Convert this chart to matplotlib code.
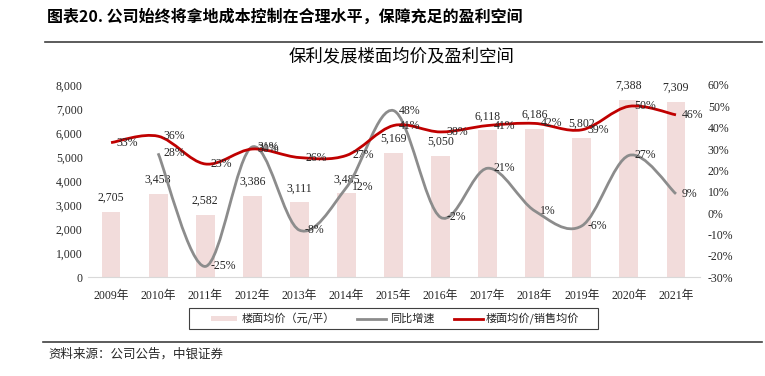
import numpy as np
import matplotlib
matplotlib.use('Agg')
import matplotlib.pyplot as plt
from matplotlib.path import Path
from matplotlib.patches import PathPatch, Rectangle
from matplotlib.lines import Line2D

plt.rcParams['font.family'] = ['Liberation Serif', 'Noto Sans CJK SC']
plt.rcParams['axes.unicode_minus'] = False

years = ['2009年', '2010年', '2011年', '2012年', '2013年', '2014年', '2015年',
         '2016年', '2017年', '2018年', '2019年', '2020年', '2021年']
floor_price = [2705, 3458, 2582, 3386, 3111, 3485, 5169, 5050, 6118, 6186, 5802, 7388, 7309]
yoy = [None, 28, -25, 31, -8, 12, 48, -2, 21, 1, -6, 27, 9]
ratio = [33, 36, 23, 30, 26, 27, 41, 38, 41, 42, 39, 50, 46]

CJK = ['Noto Sans CJK SC', 'DejaVu Sans']
RED = '#C00000'
GRAY = '#8C8C8C'
PINK = '#F2DCDB'


def smooth_path(xs, ys):
    # bezier segments through the points, like excel's smoothed line
    pts = np.column_stack([xs, ys]).astype(float)
    n = len(pts)
    verts = [pts[0]]
    codes = [Path.MOVETO]
    for i in range(n - 1):
        p0 = pts[i - 1] if i > 0 else pts[i]
        p1, p2 = pts[i], pts[i + 1]
        p3 = pts[i + 2] if i + 2 < n else pts[i + 1]
        c1 = p1 + (p2 - p0) / 6.0
        c2 = p2 - (p3 - p1) / 6.0
        verts += [c1, c2, p2]
        codes += [Path.CURVE4] * 3
    return Path(verts, codes)


fig = plt.figure(figsize=(7.65, 3.76), dpi=100)
ax = fig.add_axes([0.1144, 0.263, 0.8, 0.511])
x = np.arange(len(years))

ax.bar(x, floor_price, width=0.4, color=PINK, zorder=1)
ax.set_xlim(-0.5, len(years) - 0.5)
ax.set_ylim(0, 8000)
ax.set_yticks(range(0, 8001, 1000))
ax.set_yticklabels([f'{v:,}' for v in range(0, 8001, 1000)])
ax.set_xticks(x)
ax.set_xticklabels(years)
for s in ['top', 'left', 'right']:
    ax.spines[s].set_visible(False)
ax.spines['bottom'].set_color('#D9D9D9')
ax.tick_params(length=0, labelsize=8.5, colors='#262626')
ax.tick_params(axis='x', pad=9)
for i, v in enumerate(floor_price):
    ax.text(i, v + 330, f'{v:,}', ha='center', va='bottom', fontsize=8.5, color='#262626')

ax2 = ax.twinx()
ax2.set_ylim(-30, 60)
ax2.set_yticks(range(-30, 61, 10))
ax2.set_yticklabels([f'{v}%' for v in range(-30, 61, 10)])
for s in ['top', 'left', 'right', 'bottom']:
    ax2.spines[s].set_visible(False)
ax2.tick_params(length=0, labelsize=8.5, colors='#262626', pad=6)

gx = [i for i, v in enumerate(yoy) if v is not None]
gy = [v for v in yoy if v is not None]
ax2.add_patch(PathPatch(smooth_path(gx, gy), fill=False, edgecolor=GRAY, lw=2.0, zorder=3))
ax2.add_patch(PathPatch(smooth_path(x, ratio), fill=False, edgecolor=RED, lw=2.0, zorder=4))

for i, v in zip(gx, gy):
    ax2.text(i + 0.12, v, f'{v}%', ha='left', va='center', fontsize=8.5, color='#262626', zorder=5)
for i, v in enumerate(ratio):
    ax2.text(i + 0.12, v, f'{v}%', ha='left', va='center', fontsize=8.5, color='#262626', zorder=5)

# titles and rules
fig.text(47 / 765, 1 - 17 / 376, '图表20. 公司始终将拿地成本控制在合理水平，保障充足的盈利空间',
         family=CJK, fontsize=11.5, fontweight='bold', ha='left', va='center')
fig.add_artist(Line2D([45 / 765, 762 / 765], [1 - 42 / 376] * 2, color='#404040', lw=1.2))
fig.text(402 / 765, 1 - 56 / 376, '保利发展楼面均价及盈利空间', family=CJK, fontsize=12.5,
         ha='center', va='center')

# legend box
fig.add_artist(Rectangle((189 / 765, 1 - 329 / 376), 409 / 765, 21 / 376, transform=fig.transFigure,
                         fill=False, edgecolor='#404040', lw=0.8))
ly = 1 - 318.5 / 376
fig.add_artist(Rectangle((211 / 765, ly - 2.5 / 376), 26 / 765, 5 / 376, transform=fig.transFigure,
                         color=PINK, lw=0))
fig.text(242 / 765, ly, '楼面均价（元/平）', family=CJK, fontsize=8, va='center', color='#262626')
fig.add_artist(Line2D([357 / 765, 386 / 765], [ly, ly], color=GRAY, lw=2))
fig.text(390 / 765, ly, '同比增速', family=CJK, fontsize=8, va='center', color='#262626')
fig.add_artist(Line2D([454 / 765, 483 / 765], [ly, ly], color=RED, lw=2))
fig.text(486 / 765, ly, '楼面均价/销售均价', family=CJK, fontsize=8, va='center', color='#262626')

fig.add_artist(Line2D([43 / 765, 762 / 765], [1 - 342 / 376] * 2, color='#404040', lw=1.2))
fig.text(48 / 765, 1 - 354 / 376, '资料来源：公司公告，中银证券', family=CJK, fontsize=9,
         style='italic', ha='left', va='center', color='#262626')

fig.savefig('out.png', dpi=100)
